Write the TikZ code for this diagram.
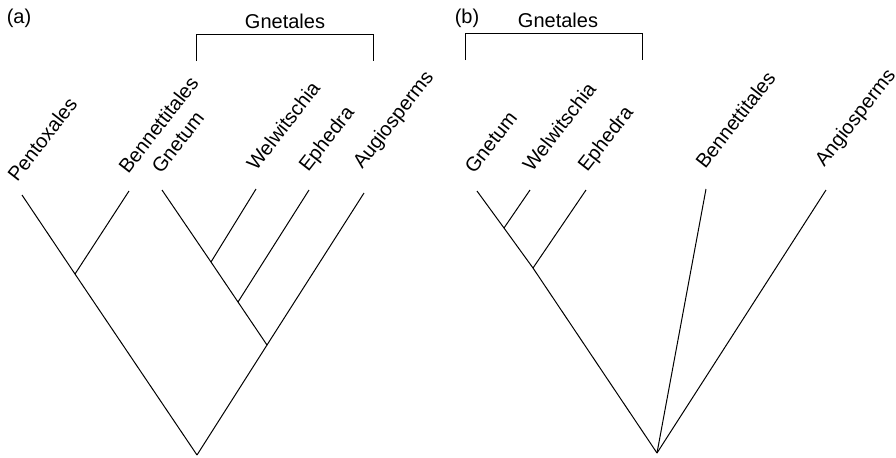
\documentclass[tikz,border=0pt]{standalone}
\usepackage{fontspec}
\setmainfont{Liberation Sans}
\begin{document}
\begin{tikzpicture}[x=0.5pt,y=-0.5pt,line width=0.5pt,
    every node/.style={font=\fontsize{10}{12}\selectfont},
    taxon/.style={rotate=52,anchor=base west,inner sep=0pt}]
    \useasboundingbox (0,0) rectangle (896,457);

    % Tree (a): tips and their labels
    \foreach \n/\x/\y/\dx/\dy/\t in {pen/22/195/-5/12/Pentoxales,
        ben/129/191/-1/16/Bennettitales, gne/162/190/-1/15/Gnetum,
        wel/256/189/0/17/Welwitschia, eph/309/190/-1/17/Ephedra,
        aug/364/193/-2/23/Augiosperms} {
        \coordinate (a\n) at (\x,\y);
        \node[taxon] (a\n-lbl) at ([shift={(\dx,-\dy)}]a\n) {\t};
    }

    % Tree (a): internal nodes
    \coordinate (a1) at (75,274);
    \coordinate (a2) at (211,262);
    \coordinate (a3) at (238,302);
    \coordinate (a4) at (267,345);
    \coordinate (aroot) at (197,455);

    % Tree (a): branches
    \draw (apen) -- (a1) -- (aroot);
    \draw (aben) -- (a1);
    \draw (agne) -- (a2) -- (a3) -- (a4) -- (aroot);
    \draw (awel) -- (a2);
    \draw (aeph) -- (a3);
    \draw (aaug) -- (a4);

    % Tree (a): bracket and titles
    \draw (196,61) -- (196,34) -- (373,34) -- (373,61);
    \node (agrp) at (285,21) {Gnetales};
    \node (atag) at (19,18) {(a)};

    % Tree (b): tips and their labels
    \foreach \n/\x/\y/\dx/\dy/\t in {gne/477/191/-3/16/Gnetum,
        wel/530/190/2/17/Welwitschia, eph/586/190/1/17/Ephedra,
        ben/706/189/-1/19/Bennettitales, ang/826/190/-2/22/Angiosperms} {
        \coordinate (b\n) at (\x,\y);
        \node[taxon] (b\n-lbl) at ([shift={(\dx,-\dy)}]b\n) {\t};
    }

    % Tree (b): internal nodes
    \coordinate (b1) at (504,228);
    \coordinate (b2) at (533,268);
    \coordinate (broot) at (657,453);

    % Tree (b): branches
    \draw (bgne) -- (b1) -- (b2) -- (broot);
    \draw (bwel) -- (b1);
    \draw (beph) -- (b2);
    \draw (bben) -- (broot);
    \draw (bang) -- (broot);

    % Tree (b): bracket and titles
    \draw (465,60) -- (465,33) -- (642,33) -- (642,60);
    \node (bgrp) at (558,20) {Gnetales};
    \node (btag) at (467,18) {(b)};
\end{tikzpicture}
\end{document}
